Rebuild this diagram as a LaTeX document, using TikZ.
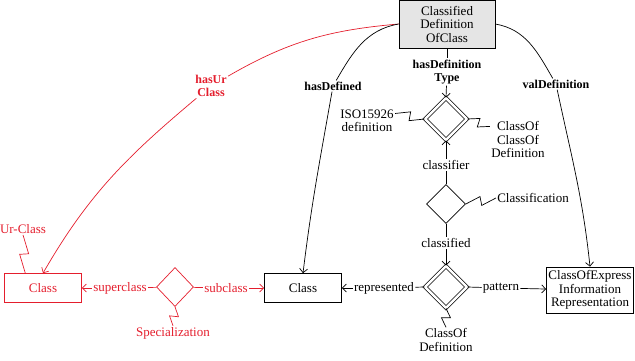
\documentclass[tikz,border=0pt]{standalone}
\usepackage{fontspec}
\setmainfont{Liberation Serif}
\usetikzlibrary{shapes.geometric,arrows.meta,calc}
\definecolor{urred}{RGB}{228,30,45}

\begin{document}
\begin{tikzpicture}[x=1pt,y=1pt,line width=0.7pt,>={Straight Barb[length=4pt,width=8pt]},
  every node/.style={font=\fontsize{13}{13.5}\selectfont,align=center,inner sep=1pt},
  box/.style={draw,minimum width=77,minimum height=29},
  rel/.style={draw,diamond,aspect=1,inner sep=0pt,minimum width=39,minimum height=39},
  relx/.style={rel,double,double distance=2.4pt,minimum width=42,minimum height=42},
  lbl/.style={font=\fontsize{12}{13.5}\selectfont\bfseries},
  zig/.style={to path={-- ($(\tikztostart)!.5!(\tikztotarget)!4.5pt!90:(\tikztotarget)$) -- ($(\tikztostart)!.5!(\tikztotarget)!4.5pt!-90:(\tikztotarget)$) -- (\tikztotarget)}}]
  \useasboundingbox (0,0) rectangle (635,360);
  \node[box,fill=gray!20,minimum width=96,minimum height=48] (cdoc) at (447,336) {Classified\\Definition\\OfClass};
  \node[lbl] (hdt) at (447,288) {hasDefinition\\Type};
  \node[relx] (d1) at (446,241) {}; \node (iso) at (367,239) {ISO15926\\definition}; \node (coocd) at (518,220.5) {ClassOf\\ClassOf\\Definition};
  \node (clfr) at (446,195) {classifier};
  \node[rel] (d2) at (446,156) {}; \node (clsn) at (533,162) {Classification};
  \node (clfd) at (446,117) {classified};
  \node[relx] (d3) at (446,73) {}; \node (cod) at (446,20) {ClassOf\\Definition};
  \node (rep) at (384,72) {represented}; \node (pat) at (501,72) {pattern};
  \node[box,minimum width=87,minimum height=46] (ceir) at (590,70) {ClassOfExpress\\Information\\Representation};
  \node[box] (cls) at (303,72) {Class};
  \node[lbl] (hdf) at (333,274) {hasDefined}; \node[lbl] (vdf) at (556,276) {valDefinition};
  \begin{scope}[color=urred]
    \node[box] (rc) at (43,72) {Class}; \node (urc) at (23,131) {Ur-Class};
    \node[rel,minimum width=37] (spec) at (175,73) {}; \node (spz) at (173,27) {Specialization};
    \node (sup) at (120,72) {superclass}; \node (sub) at (226,72) {subclass};
    \node[lbl] (hur) at (211,274) {hasUr\\Class};
    \draw (spec) -- (sup); \draw[->] (sup) -- (rc); \draw (spec) -- (sub); \draw[->] (sub) -- (cls);
    \draw (rc.140) to[zig] (urc.south); \draw (spec.south) to[zig] (spz.north);
    \draw (cdoc.west) to[out=185,in=30] (hur); \draw[->] (hur) to[out=220,in=60] (rc.north);
  \end{scope}
  \draw (cdoc) -- (hdt); \draw[->] (hdt) -- (d1.north);
  \draw (iso.15) to[zig] (d1.west); \draw (d1.east) to[zig] (coocd.155);
  \draw[->] (clfr) -- (d1.south); \draw (d2) -- (clfr);
  \draw (d2.east) to[zig] (clsn.west);
  \draw (d2) -- (clfd); \draw[->] (clfd) -- (d3.north);
  \draw (d3.south) to[zig] (cod.north);
  \draw (d3.west) -- (rep); \draw[->] (rep) -- (cls); \draw (d3.east) -- (pat); \draw[->] (pat) -- (ceir);
  \draw (cdoc.west) to[out=190,in=60] (hdf); \draw[->] (hdf) to[out=-100,in=83] (cls.north);
  \draw (cdoc.east) to[out=-10,in=120] (vdf); \draw[->] (vdf) to[out=-78,in=96] (ceir.north);
\end{tikzpicture}
\end{document}
